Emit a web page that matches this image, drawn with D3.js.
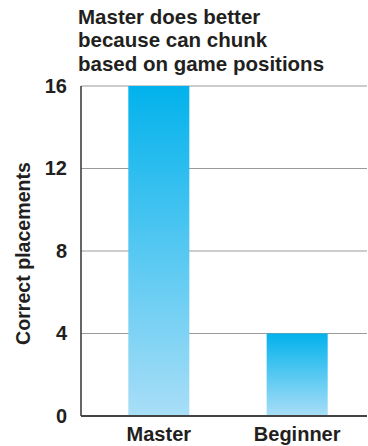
<!DOCTYPE html>
<html>
<head>
<meta charset="utf-8">
<script src="https://cdn.jsdelivr.net/npm/d3@7"></script>
<style>
  html, body { margin: 0; padding: 0; background: #fff; }
  svg { display: block; }
  text { font-family: "Liberation Sans", Arial, Helvetica, sans-serif; fill: #231f20; }
</style>
</head>
<body>
<svg id="chart" width="368" height="446"></svg>
<script>
// Chess recall: correct piece placements for game positions
const categories = ["Master", "Beginner"];
const values = [16, 4];
const yTicks = [0, 4, 8, 12, 16];
const titleLines = ["Master does better", "because can chunk", "based on game positions"];
const yLabel = "Correct placements";

const svg = d3.select("#chart");
const plot = { left: 81, right: 367, top: 86, bottom: 416 };

const y = d3.scaleLinear().domain([0, 16]).range([plot.bottom, plot.top]);
const x = d3.scaleBand()
  .domain(categories)
  .range([plot.left, plot.left + 294])
  .paddingInner(0.559)
  .paddingOuter(0.342);

// vertical blue gradient used for each bar
const defs = svg.append("defs");
const grad = defs.append("linearGradient")
  .attr("id", "barGrad")
  .attr("x1", 0).attr("y1", 0).attr("x2", 0).attr("y2", 1);
grad.append("stop").attr("offset", "0%").attr("stop-color", "#02b2ec");
grad.append("stop").attr("offset", "100%").attr("stop-color", "#a9def7");

// horizontal gridlines
svg.append("g")
  .selectAll("line")
  .data(yTicks.filter(d => d > 0))
  .join("line")
  .attr("x1", plot.left).attr("x2", plot.right)
  .attr("y1", d => y(d)).attr("y2", d => y(d))
  .attr("stroke", "#9a9a9a")
  .attr("stroke-width", 1.2);

// bars
svg.append("g")
  .selectAll("rect")
  .data(categories.map((c, i) => ({ c, v: values[i] })))
  .join("rect")
  .attr("x", d => x(d.c))
  .attr("width", x.bandwidth())
  .attr("y", d => y(d.v))
  .attr("height", d => y(0) - y(d.v))
  .attr("fill", "url(#barGrad)");

// y axis line and baseline
svg.append("line")
  .attr("x1", plot.left).attr("x2", plot.left)
  .attr("y1", plot.top).attr("y2", plot.bottom)
  .attr("stroke", "#333").attr("stroke-width", 1.5);
svg.append("line")
  .attr("x1", plot.left).attr("x2", plot.right)
  .attr("y1", y(0)).attr("y2", y(0))
  .attr("stroke", "#444").attr("stroke-width", 2);

// y tick labels
const yAxis = d3.axisLeft(y).tickValues(yTicks).tickSize(0).tickPadding(14);
const gy = svg.append("g")
  .attr("transform", `translate(${plot.left},0)`)
  .call(yAxis);
gy.select(".domain").remove();
gy.selectAll("text")
  .attr("font-size", 20)
  .attr("font-weight", "bold")
  .attr("fill", "#231f20")
  .style("font-family", "'Liberation Sans', Arial, sans-serif");

// x category labels
const xAxis = d3.axisBottom(x).tickSize(0).tickPadding(0);
const gx = svg.append("g")
  .attr("transform", `translate(0,${y(0)})`)
  .call(xAxis);
gx.select(".domain").remove();
gx.selectAll("text")
  .attr("y", 25)
  .attr("dy", 0)
  .attr("font-size", 20)
  .attr("font-weight", "bold")
  .attr("fill", "#231f20")
  .style("font-family", "'Liberation Sans', Arial, sans-serif");

// y axis title
svg.append("text")
  .attr("transform", `translate(29.5,${(162 + 345) / 2}) rotate(-90)`)
  .attr("text-anchor", "middle")
  .attr("font-size", 19.6)
  .attr("font-weight", "bold")
  .text(yLabel);

// title
svg.append("g")
  .selectAll("text")
  .data(titleLines)
  .join("text")
  .attr("x", 78)
  .attr("y", (d, i) => 24 + i * 23.3)
  .attr("font-size", 20.5)
  .attr("font-weight", "bold")
  .text(d => d);
</script>
</body>
</html>
